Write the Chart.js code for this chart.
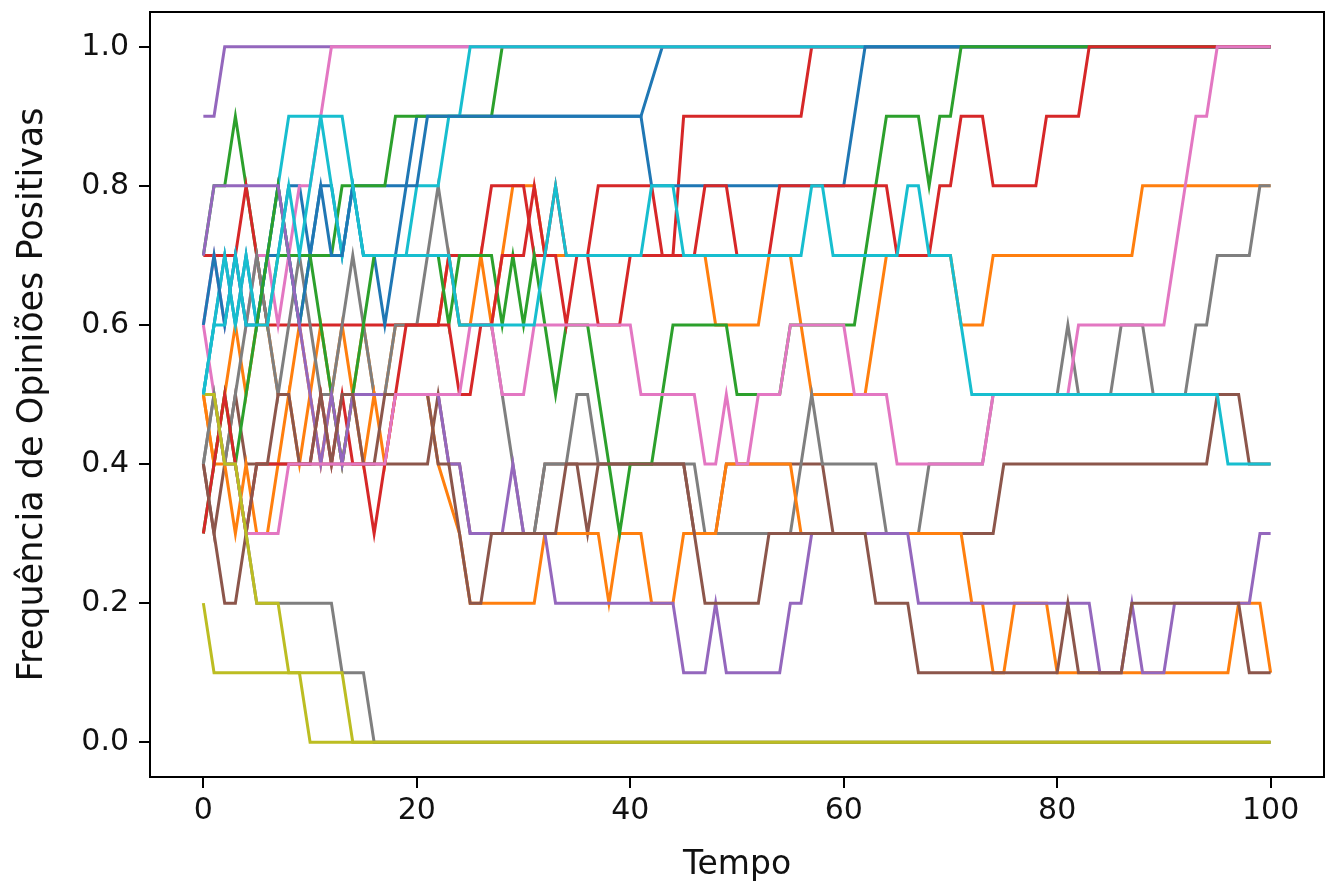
<!DOCTYPE html>
<html>
<head>
<meta charset="utf-8">
<script src="https://cdn.jsdelivr.net/npm/chart.js@4.4.0/dist/chart.umd.min.js"></script>
<style>
  html, body { margin: 0; padding: 0; background: #fff; }
  canvas { display: block; }
</style>
</head>
<body>
<canvas id="chart" width="1325" height="889"></canvas>
<script>
// tick labels
const xTicks = [0, 20, 40, 60, 80, 100];
const yTicks = [0, 0.2, 0.4, 0.6, 0.8, 1.0];

// each run: [tempo, frequência] at the corners of the path
const blue1 = [[0,.5],[1,.6],[2,.7],[3,.6],[4,.7],[5,.6],[6,.7],[7,.7],[8,.8],[9,.8],[10,.7],[11,.8],[12,.8],[13,.7],[14,.8],[19,.8],[20,.9],[41,.9],[43,1],[100,1]];
const orange1 = [[0,.5],[1,.4],[2,.5],[3,.6],[4,.5],[5,.6],[6,.6],[7,.5],[8,.5],[9,.6],[10,.5],[11,.6],[12,.5],[13,.6],[14,.5],[15,.6],[16,.5],[17,.5],[18,.6],[22,.6],[23,.7],[24,.6],[25,.6],[26,.7],[27,.6],[28,.7],[29,.8],[31,.8],[32,.7],[47,.7],[48,.6],[52,.6],[53,.7],[55,.7],[56,.6],[57,.5],[62,.5],[63,.6],[64,.7],[70,.7],[71,.6],[73,.6],[74,.7],[87,.7],[88,.8],[100,.8]];
const green1 = [[0,.7],[1,.8],[2,.8],[3,.9],[4,.8],[5,.7],[6,.6],[7,.7],[8,.7],[9,.6],[10,.7],[12,.7],[13,.8],[17,.8],[18,.9],[27,.9],[28,1],[100,1]];
const red1 = [[0,.7],[3,.7],[4,.8],[5,.7],[6,.6],[22,.6],[23,.7],[26,.7],[27,.8],[30,.8],[31,.7],[32,.7],[33,.8],[34,.7],[36,.7],[37,.8],[42,.8],[43,.7],[44,.7],[45,.9],[56,.9],[57,1],[100,1]];
const purple1 = [[0,.9],[1,.9],[2,1],[100,1]];
const brown1 = [[0,.4],[1,.3],[2,.4],[3,.5],[4,.4],[21,.4],[22,.5],[23,.4],[24,.4],[25,.3],[31,.3],[32,.4],[35,.4],[36,.3],[37,.4],[45,.4],[46,.3],[48,.3],[49,.4],[58,.4],[59,.3],[74,.3],[75,.4],[94,.4],[95,.5],[97,.5],[98,.4],[100,.4]];
const pink1 = [[0,.6],[1,.7],[2,.6],[3,.7],[4,.6],[5,.7],[6,.7],[7,.6],[8,.7],[9,.8],[10,.8],[11,.9],[12,1],[100,1]];
const gray1 = [[0,.4],[1,.5],[2,.4],[3,.5],[4,.6],[5,.7],[6,.6],[7,.5],[8,.6],[9,.7],[10,.6],[11,.5],[12,.5],[13,.6],[14,.7],[15,.6],[16,.5],[17,.5],[18,.6],[20,.6],[21,.7],[22,.8],[23,.7],[24,.6],[27,.6],[28,.5],[29,.4],[30,.3],[31,.3],[32,.4],[34,.4],[35,.5],[36,.5],[37,.4],[46,.4],[47,.3],[55,.3],[56,.4],[57,.5],[58,.4],[63,.4],[64,.3],[67,.3],[68,.4],[73,.4],[74,.5],[80,.5],[81,.6],[82,.5],[85,.5],[86,.6],[88,.6],[89,.5],[92,.5],[93,.6],[94,.6],[95,.7],[98,.7],[99,.8],[100,.8]];
const olive1 = [[0,.2],[1,.1],[9,.1],[10,0],[100,0]];
const cyan1 = [[0,.5],[1,.6],[2,.7],[3,.6],[4,.7],[5,.6],[6,.7],[7,.8],[8,.9],[11,.9],[12,.8],[13,.7],[14,.8],[15,.7],[19,.7],[20,.8],[22,.8],[23,.9],[24,.9],[25,1],[100,1]];
const blue2 = [[0,.6],[1,.7],[2,.6],[3,.7],[4,.6],[5,.6],[6,.7],[7,.8],[8,.7],[9,.6],[10,.7],[11,.8],[12,.7],[13,.7],[14,.8],[15,.7],[16,.7],[17,.6],[18,.7],[19,.8],[20,.8],[21,.9],[41,.9],[42,.8],[60,.8],[61,.9],[62,1],[100,1]];
const orange2 = [[0,.5],[1,.4],[2,.4],[3,.3],[4,.4],[5,.3],[6,.3],[7,.4],[8,.5],[9,.4],[10,.5],[11,.4],[12,.5],[13,.4],[14,.5],[15,.4],[16,.5],[17,.4],[18,.5],[21,.5],[22,.4],[24,.3],[25,.2],[31,.2],[32,.3],[37,.3],[38,.2],[39,.3],[41,.3],[42,.2],[44,.2],[45,.3],[48,.3],[49,.4],[55,.4],[56,.3],[71,.3],[72,.2],[73,.2],[74,.1],[75,.1],[76,.2],[79,.2],[80,.1],[96,.1],[97,.2],[99,.2],[100,.1]];
const green2 = [[0,.3],[1,.4],[2,.5],[3,.4],[4,.5],[5,.6],[6,.7],[7,.8],[8,.7],[10,.7],[11,.6],[12,.5],[13,.4],[14,.5],[15,.6],[16,.7],[22,.7],[23,.6],[24,.7],[27,.7],[28,.6],[29,.7],[30,.6],[31,.7],[32,.6],[33,.5],[34,.6],[36,.6],[39,.3],[40,.4],[42,.4],[44,.6],[49,.6],[50,.5],[54,.5],[55,.6],[61,.6],[64,.9],[67,.9],[68,.8],[69,.9],[70,.9],[71,1],[100,1]];
const red2 = [[0,.3],[1,.4],[2,.5],[3,.4],[4,.3],[5,.4],[10,.4],[11,.5],[12,.4],[13,.5],[14,.4],[15,.4],[16,.3],[17,.4],[18,.5],[19,.6],[23,.6],[24,.5],[25,.5],[26,.6],[27,.6],[28,.7],[30,.7],[31,.8],[32,.7],[33,.7],[34,.6],[35,.7],[36,.7],[37,.6],[39,.6],[40,.7],[46,.7],[47,.8],[49,.8],[50,.7],[53,.7],[54,.8],[64,.8],[65,.7],[68,.7],[69,.8],[70,.8],[71,.9],[73,.9],[74,.8],[78,.8],[79,.9],[82,.9],[83,1],[100,1]];
const purple2 = [[0,.7],[1,.8],[7,.8],[8,.7],[9,.6],[10,.5],[11,.4],[12,.5],[13,.4],[14,.5],[22,.5],[23,.4],[24,.4],[25,.3],[28,.3],[29,.4],[30,.3],[32,.3],[33,.2],[44,.2],[45,.1],[47,.1],[48,.2],[49,.1],[54,.1],[55,.2],[56,.2],[57,.3],[66,.3],[67,.2],[83,.2],[84,.1],[86,.1],[87,.2],[88,.1],[90,.1],[91,.2],[98,.2],[99,.3],[100,.3]];
const brown2 = [[0,.4],[1,.3],[2,.2],[3,.2],[4,.3],[5,.4],[6,.4],[7,.5],[8,.5],[9,.4],[10,.4],[11,.5],[12,.4],[13,.5],[14,.5],[15,.4],[16,.4],[17,.5],[21,.5],[22,.4],[23,.4],[24,.3],[25,.2],[26,.2],[27,.3],[33,.3],[34,.4],[45,.4],[47,.2],[52,.2],[53,.3],[62,.3],[63,.2],[66,.2],[67,.1],[80,.1],[81,.2],[82,.1],[86,.1],[87,.2],[97,.2],[98,.1],[100,.1]];
const pink2 = [[0,.6],[1,.5],[2,.4],[3,.4],[4,.3],[7,.3],[8,.4],[17,.4],[18,.5],[24,.5],[25,.6],[27,.6],[28,.5],[30,.5],[31,.6],[40,.6],[41,.5],[46,.5],[47,.4],[48,.4],[49,.5],[50,.4],[51,.4],[52,.5],[54,.5],[55,.6],[60,.6],[61,.5],[64,.5],[65,.4],[73,.4],[74,.5],[81,.5],[82,.6],[90,.6],[91,.7],[92,.8],[93,.9],[94,.9],[95,1],[100,1]];
const gray2 = [[0,.4],[1,.5],[2,.4],[3,.4],[4,.3],[5,.2],[12,.2],[13,.1],[15,.1],[16,0],[100,0]];
const olive2 = [[0,.5],[1,.5],[2,.4],[3,.4],[4,.3],[5,.2],[7,.2],[8,.1],[13,.1],[14,0],[100,0]];
const cyan2 = [[0,.5],[1,.6],[2,.6],[3,.7],[4,.6],[6,.6],[7,.7],[8,.8],[9,.7],[10,.8],[11,.9],[13,.9],[14,.8],[15,.7],[23,.7],[24,.6],[31,.6],[32,.7],[33,.8],[34,.7],[41,.7],[42,.8],[44,.8],[45,.7],[56,.7],[57,.8],[58,.8],[59,.7],[65,.7],[66,.8],[67,.8],[68,.7],[70,.7],[72,.5],[95,.5],[96,.4],[100,.4]];

// plot order as matplotlib drew them, colour cycle tab10
const runs = [blue1, orange1, green1, red1, purple1, brown1, pink1, gray1, olive1, cyan1,
              blue2, orange2, green2, red2, purple2, brown2, pink2, gray2, olive2, cyan2];
const tab10 = ['#1f77b4', '#ff7f0e', '#2ca02c', '#d62728', '#9467bd',
               '#8c564b', '#e377c2', '#7f7f7f', '#bcbd22', '#17becf'];

const FONT = 'DejaVu Sans';
const TEXT = '#111';

// top and right spines (chart.js only draws the axis side)
const boxPlugin = {
    id: 'box',
    afterDraw(chart) {
        const a = chart.chartArea;
        const ctx = chart.ctx;
        ctx.save();
        ctx.strokeStyle = '#000';
        ctx.lineWidth = 2;
        ctx.strokeRect(a.left, a.top, a.right - a.left, a.bottom - a.top);
        ctx.restore();
    }
};

new Chart(document.getElementById('chart'), {
    type: 'line',
    data: {
        datasets: runs.map((r, i) => ({
            data: r.map(([x, y]) => ({ x, y })),
            borderColor: tab10[i % 10],
            borderWidth: 3,
            pointRadius: 0,
            fill: false,
            tension: 0,
            order: runs.length - i
        }))
    },
    options: {
        responsive: false,
        animation: false,
        devicePixelRatio: 1,
        layout: { padding: { top: 12, right: 1, left: 0, bottom: 0 } },
        plugins: { legend: { display: false }, tooltip: { enabled: false } },
        scales: {
            x: {
                type: 'linear',
                min: -5,
                max: 105,
                afterBuildTicks: s => { s.ticks = xTicks.map(v => ({ value: v })); },
                afterFit: s => { s.height = 112; s.paddingLeft = 0; s.paddingRight = 0; },
                ticks: { font: { family: FONT, size: 30 }, color: TEXT, padding: 5, maxRotation: 0 },
                grid: { drawOnChartArea: false, drawTicks: true, tickLength: 11, color: '#000', lineWidth: 2 },
                border: { display: true, color: '#000', width: 2 },
                title: { display: true, text: 'Tempo', font: { family: FONT, size: 33 }, color: TEXT, padding: { top: 0, bottom: 4 } }
            },
            y: {
                type: 'linear',
                min: -0.05,
                max: 1.05,
                afterBuildTicks: s => { s.ticks = yTicks.map(v => ({ value: v })); },
                afterFit: s => { s.width = 150; s.paddingTop = 0; s.paddingBottom = 0; },
                ticks: { font: { family: FONT, size: 30 }, color: TEXT, padding: 10, callback: v => v.toFixed(1) },
                grid: { drawOnChartArea: false, drawTicks: true, tickLength: 11, color: '#000', lineWidth: 2 },
                border: { display: true, color: '#000', width: 2 },
                title: { display: true, text: 'Frequência de Opiniões Positivas', font: { family: FONT, size: 35 }, color: TEXT, padding: { top: 12, bottom: 0 } }
            }
        }
    },
    plugins: [boxPlugin]
});
</script>
</body>
</html>
